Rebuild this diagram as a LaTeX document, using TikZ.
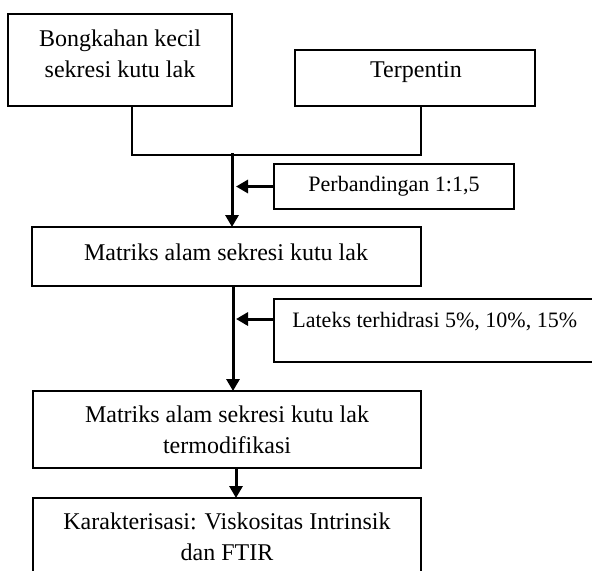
\documentclass[tikz,border=0pt]{standalone}
\usepackage{fontspec}
\setmainfont{Liberation Serif}
\usetikzlibrary{arrows.meta}
\begin{document}
\begin{tikzpicture}[x=0.5pt,y=-0.5pt,
  box/.style={draw, line width=0.6pt, inner sep=0pt, outer sep=0pt},
  txt/.style={inner sep=0pt, align=center, font=\fontsize{12pt}{15.5pt}\selectfont},
  sidetxt/.style={inner sep=0pt, align=center, font=\fontsize{11pt}{14pt}\selectfont},
  conn/.style={line width=0.6pt},
  mainarr/.style={line width=1.5pt, -{Triangle[length=6pt,width=6.5pt]}},
  sidearr/.style={line width=1.5pt, -{Triangle[length=6pt,width=6.5pt]}}]
\clip (0,0) rectangle (592,570);
\fill[white] (0,0) rectangle (592,570);
% boxes
\node[box, minimum width=112pt, minimum height=46pt] (b1) at (120,60) {};
\node[box, minimum width=120pt, minimum height=28pt] (b2) at (415,78) {};
\node[box, minimum width=120pt, minimum height=22.5pt] (pb) at (394,186.5) {};
\node[box, minimum width=194.5pt, minimum height=29.5pt] (b3) at (226.5,256.5) {};
\node[box, minimum width=173pt, minimum height=31.5pt] (lx) at (447,330.5) {};
\node[box, minimum width=194pt, minimum height=38.5pt] (b4) at (227,429.5) {};
\node[box, minimum width=194pt, minimum height=61pt] (b5) at (227,559) {};
% texts
\node[txt] (t1) at (120,54) {Bongkahan kecil\\sekresi kutu lak};
\node[txt] (t2) at (416,72) {Terpentin};
\node[sidetxt] (tp) at (394,186) {Perbandingan 1:1,5};
\node[txt] (t3) at (226,252) {Matriks alam sekresi kutu lak};
\node[sidetxt, anchor=west] (tl) at (292,322) {Lateks terhidrasi 5\%, 10\%, 15\%};
\node[txt] (t4) at (227,430) {Matriks alam sekresi kutu lak\\termodifikasi};
\node[txt] (t5) at (227,537) {Karakterisasi: Viskositas Intrinsik\\dan FTIR};
% connectors
\coordinate (j1) at (132,155);
\coordinate (j2) at (421,155);
\draw[conn] (b1.south -| j1) -- (j1) -- (j2) -- (b2.south -| j2);
\coordinate (s1) at (232,153);
\draw[mainarr] (s1) -- (s1 |- b3.north);
\coordinate (e1) at (236,186.5);
\draw[sidearr] (pb.west) -- (e1);
\coordinate (s2) at (233,286);
\draw[mainarr] (s2) -- (s2 |- b4.north);
\coordinate (a2s) at (274,319);
\coordinate (a2e) at (236,319);
\draw[sidearr] (a2s) -- (a2e);
\coordinate (s3) at (236,0);
\draw[mainarr] (b4.south -| s3) -- (b5.north -| s3);
\end{tikzpicture}
\end{document}
